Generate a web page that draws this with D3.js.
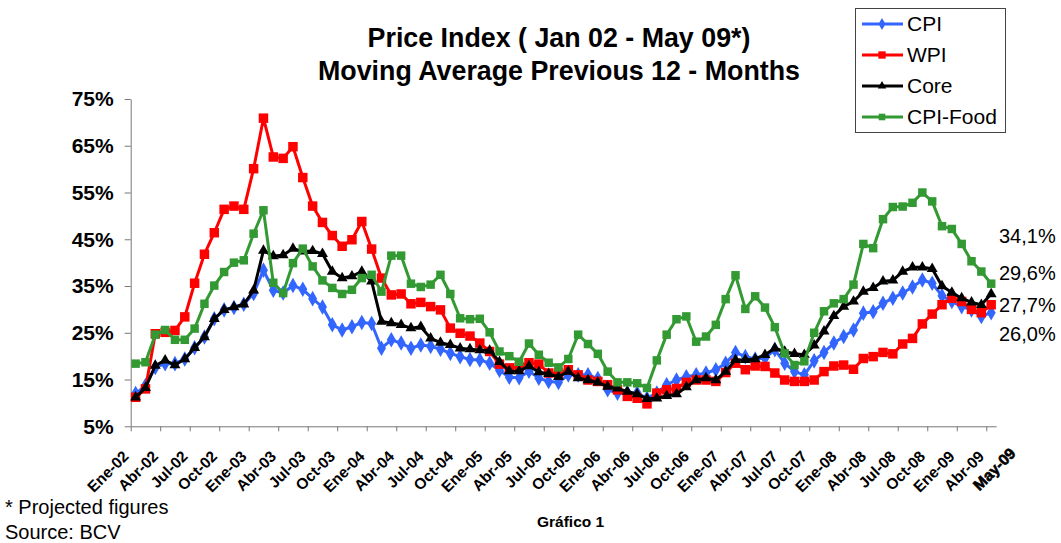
<!DOCTYPE html>
<html>
<head>
<meta charset="utf-8">
<script src="https://cdn.jsdelivr.net/npm/d3@7"></script>
<style>
  body { margin: 0; background: #fff; }
  svg { font-family: Arial, "Liberation Sans", sans-serif; }
</style>
</head>
<body>
<div id="chart"></div>
<script>
// months Ene-02 .. Abr-09 (88 points)
const monthNames = ["Ene", "Feb", "Mar", "Abr", "May", "Jun", "Jul", "Ago", "Sep", "Oct", "Nov", "Dic"];
const months = d3.range(88).map(i => monthNames[i % 12] + "-0" + (2 + Math.floor(i / 12)));
const tickLabels = months.filter((m, i) => i % 3 === 0);
const lastLabel = "May-09";

const cpi = [12.0, 13.7, 17.6, 18.4, 18.4, 19.4, 21.8, 24.1, 28.0, 29.9, 30.4, 31.1,
  33.4, 38.4, 34.1, 33.5, 35.1, 34.3, 32.3, 30.5, 26.7, 25.6, 26.3, 27.2,
  27.0, 21.7, 23.5, 22.8, 21.7, 22.4, 22.1, 21.5, 20.6, 19.9, 19.3, 19.2,
  18.5, 17.0, 15.5, 15.4, 16.8, 15.3, 14.6, 14.4, 16.0, 16.0, 16.0, 15.2,
  12.8, 12.1, 12.2, 12.1, 11.0, 12.1, 13.9, 14.9, 15.6, 16.0, 16.4, 17.1,
  18.5, 20.8, 19.9, 19.4, 19.6, 21.4, 18.5, 16.7, 16.0, 19.0, 20.8, 22.8,
  24.2, 25.6, 29.2, 29.5, 31.3, 32.4, 33.5, 34.8, 36.3, 35.6, 32.9, 31.7,
  30.6, 29.9, 28.5, 29.3];

const wpi = [11.2, 13.0, 24.8, 25.1, 25.5, 28.4, 35.6, 41.8, 46.4, 51.4, 52.1, 51.4,
  60.1, 70.9, 62.6, 62.3, 64.8, 58.2, 52.1, 48.6, 45.8, 43.5, 44.9, 48.8,
  42.9, 36.7, 33.1, 33.3, 31.2, 31.5, 30.6, 29.9, 26.0, 24.9, 24.3, 22.8,
  21.0, 18.3, 17.5, 17.7, 18.6, 18.3, 16.4, 16.4, 17.1, 16.0, 14.9, 14.6,
  13.9, 12.8, 11.4, 11.0, 9.8, 12.1, 12.8, 13.1, 14.4, 14.9, 14.9, 14.6,
  16.5, 18.5, 17.1, 17.9, 17.8, 16.4, 14.9, 14.6, 14.6, 14.9, 16.7, 17.9,
  18.1, 17.2, 19.5, 19.9, 20.8, 20.5, 22.6, 23.8, 26.9, 29.0, 31.0, 32.4,
  31.7, 30.0, 29.3, 31.0];

const core = [11.2, 13.2, 18.0, 19.1, 18.1, 19.4, 21.8, 24.1, 28.0, 29.9, 30.5, 31.1,
  34.1, 42.6, 41.4, 41.6, 43.0, 42.4, 42.5, 41.9, 38.1, 36.7, 37.1, 38.1,
  36.0, 27.4, 27.1, 26.7, 26.0, 26.3, 23.8, 22.9, 22.4, 21.7, 21.5, 21.3,
  21.2, 18.8, 16.8, 16.8, 17.9, 16.6, 16.2, 15.6, 16.7, 15.3, 14.9, 14.4,
  13.5, 13.1, 12.4, 11.9, 10.9, 11.0, 11.5, 11.9, 13.4, 14.9, 15.3, 14.9,
  16.7, 19.2, 19.2, 19.4, 20.3, 21.7, 21.0, 20.5, 20.3, 22.3, 25.3, 28.6,
  30.6, 31.7, 33.8, 34.6, 36.0, 36.2, 38.1, 39.0, 39.0, 38.7, 35.0, 33.6,
  32.4, 31.5, 31.0, 33.3];

const cpiFood = [18.4, 18.7, 24.6, 25.6, 23.5, 23.5, 25.9, 31.2, 35.1, 38.0, 40.0, 40.5,
  46.2, 51.2, 35.7, 33.5, 39.9, 43.0, 39.2, 36.2, 34.6, 33.3, 34.2, 36.7,
  37.4, 33.8, 41.5, 41.5, 35.5, 34.8, 35.3, 37.4, 33.3, 28.1, 27.9, 28.0,
  25.1, 21.0, 20.0, 18.8, 22.7, 20.3, 18.6, 17.6, 19.4, 24.6, 22.6, 20.5,
  16.7, 14.4, 14.4, 14.2, 13.2, 19.1, 24.6, 27.9, 28.5, 23.1, 24.2, 26.7,
  32.2, 37.3, 30.1, 32.8, 30.4, 26.2, 20.6, 18.1, 18.9, 25.0, 29.6, 31.3,
  32.2, 35.3, 44.0, 43.1, 49.3, 51.9, 52.0, 52.8, 55.0, 53.1, 47.8, 47.2,
  44.0, 40.3, 38.1, 35.5];

const yTicks = [5, 15, 25, 35, 45, 55, 65, 75];
const endLabels = ["34,1%", "29,6%", "27,7%", "26,0%"];
const endLabelLevels = [45.6, 37.8, 31.0, 24.8];

const series = [
  {name: "CPI", values: cpi, color: "#3366FF", symbol: d3.symbolDiamond, size: 70},
  {name: "WPI", values: wpi, color: "#FF0000", symbol: d3.symbolSquare, size: 90},
  {name: "Core", values: core, color: "#000000", symbol: d3.symbolTriangle, size: 52},
  {name: "CPI-Food", values: cpiFood, color: "#339933", symbol: d3.symbolSquare, size: 72}
];

const width = 1061, height = 543;
const plot = {left: 130.7, right: 996.1, top: 99, bottom: 426.3};

const svg = d3.select("#chart")
  .append("svg")
  .attr("width", width)
  .attr("height", height);

const x = d3.scalePoint()
  .domain(months)
  .range([plot.left, plot.right])
  .padding(0.5);

// category boundaries for tick marks
const xEdge = d3.scaleLinear()
  .domain([0, months.length])
  .range([plot.left, plot.right]);

const y = d3.scaleLinear()
  .domain([5, 75])
  .range([plot.bottom, plot.top]);

// title
svg.append("text")
  .attr("x", 559).attr("y", 47)
  .attr("text-anchor", "middle")
  .attr("font-size", "26.8px").attr("font-weight", "bold")
  .text("Price Index ( Jan 02 - May 09*)");
svg.append("text")
  .attr("x", 559).attr("y", 80)
  .attr("text-anchor", "middle")
  .attr("font-size", "26.8px").attr("font-weight", "bold")
  .text("Moving Average Previous 12 - Months");

// y axis
const yAxis = svg.append("g")
  .attr("transform", `translate(${plot.left},0)`)
  .call(d3.axisLeft(y).tickValues(yTicks).tickFormat(d => d + "%").tickSize(6).tickSizeOuter(0).tickPadding(11));
yAxis.select(".domain").attr("stroke", "#777");
yAxis.selectAll(".tick line").attr("stroke", "#777");
yAxis.selectAll("text")
  .attr("font-family", "Arial, 'Liberation Sans', sans-serif")
  .attr("font-size", "21px").attr("font-weight", "bold").attr("fill", "#000");

// x axis
const xAxis = svg.append("g")
  .attr("transform", `translate(0,${plot.bottom})`)
  .call(d3.axisBottom(xEdge).tickValues(d3.range(0, months.length, 3)).tickFormat("").tickSize(5).tickSizeOuter(0));
xAxis.select(".domain").attr("stroke", "#777");
xAxis.selectAll(".tick line").attr("stroke", "#777");

svg.append("g").selectAll("text")
  .data(tickLabels)
  .join("text")
  .attr("transform", d => `translate(${x(d) - 6},${plot.bottom + 31}) rotate(-45)`)
  .attr("text-anchor", "end")
  .attr("font-size", "15.5px").attr("font-weight", "bold")
  .text(d => d);

svg.append("text")
  .attr("transform", `translate(${xEdge(90.5) - 4},${plot.bottom + 28}) rotate(-45)`)
  .attr("text-anchor", "end")
  .attr("font-size", "15.5px").attr("font-weight", "bold")
  .attr("stroke", "#000").attr("stroke-width", 0.6)
  .text(lastLabel);

// lines + markers
const line = d3.line()
  .x((d, i) => x(months[i]))
  .y(d => y(d));

series.forEach(s => {
  const g = svg.append("g");
  g.append("path")
    .datum(s.values)
    .attr("fill", "none")
    .attr("stroke", s.color)
    .attr("stroke-width", 3)
    .attr("stroke-linejoin", "round")
    .attr("d", line);
  g.selectAll("path.marker")
    .data(s.values)
    .join("path")
    .attr("class", "marker")
    .attr("transform", (d, i) => `translate(${x(months[i])},${y(d)})`)
    .attr("d", d3.symbol().type(s.symbol).size(s.size))
    .attr("fill", s.color);
});

// legend
const legend = svg.append("g");
legend.append("rect")
  .attr("x", 855.5).attr("y", 8.5)
  .attr("width", 150).attr("height", 124)
  .attr("fill", "#fff").attr("stroke", "#444").attr("stroke-width", 1);
series.forEach((s, i) => {
  const ly = 24 + i * 31;
  legend.append("line")
    .attr("x1", 862).attr("x2", 903)
    .attr("y1", ly).attr("y2", ly)
    .attr("stroke", s.color).attr("stroke-width", 3);
  legend.append("path")
    .attr("transform", `translate(882,${ly})`)
    .attr("d", d3.symbol().type(s.symbol).size(s.size * 0.6))
    .attr("fill", s.color);
  legend.append("text")
    .attr("x", 907).attr("y", ly)
    .attr("dy", "0.35em")
    .attr("font-size", "21px")
    .text(s.name);
});

// end annotations
svg.append("g").selectAll("text")
  .data(endLabels)
  .join("text")
  .attr("x", 999)
  .attr("y", (d, i) => y(endLabelLevels[i]))
  .attr("dy", "0.35em")
  .attr("font-size", "20px")
  .text(d => d);

// footnotes
svg.append("text")
  .attr("x", 5).attr("y", 514)
  .attr("font-size", "20px")
  .text("* Projected figures");
svg.append("text")
  .attr("x", 5).attr("y", 539)
  .attr("font-size", "20px")
  .text("Source: BCV");
svg.append("text")
  .attr("x", 537).attr("y", 527)
  .attr("font-size", "15.5px").attr("font-weight", "bold")
  .text("Gráfico 1");
</script>
</body>
</html>
